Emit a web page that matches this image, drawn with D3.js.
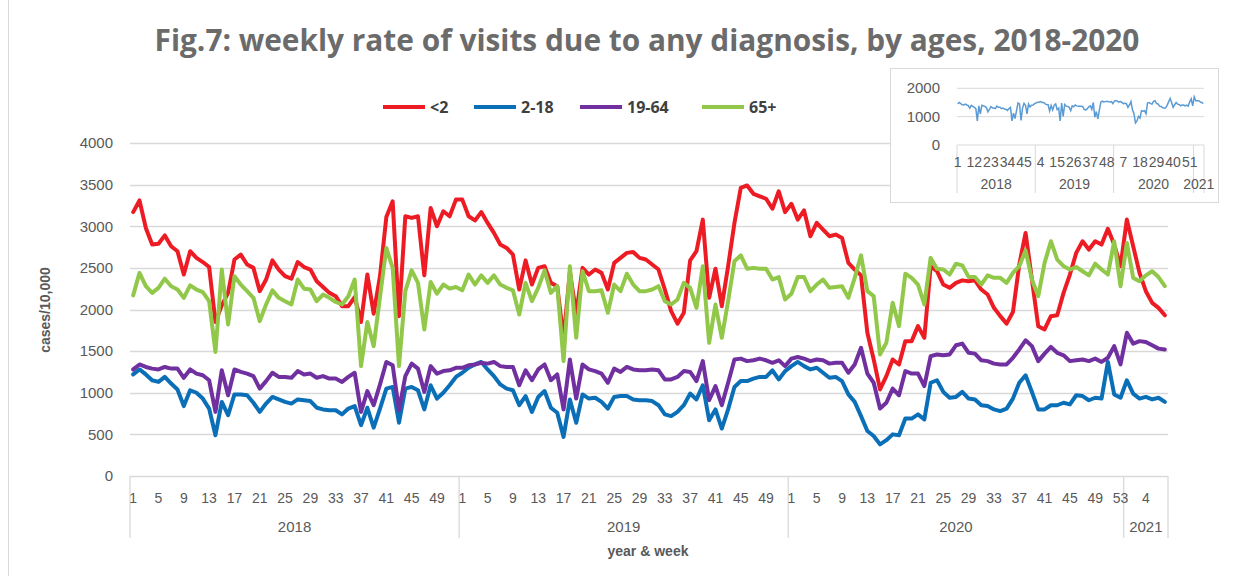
<!DOCTYPE html>
<html><head><meta charset="utf-8">
<script src="https://cdn.jsdelivr.net/npm/d3@7"></script>
<style>body{margin:0;background:#fff} svg{display:block}</style>
</head><body>
<svg id="c" width="1250" height="576"></svg>
<script>
// ---------------- data ----------------
const years = ["2018","2019","2020","2021"];
const weeksPerYear = [52,52,53,7];
const seriesNames = ["<2","2-18","19-64","65+"];
const seriesColors = ["#ED1C24","#0B6FB8","#7030A0","#92C84A"];
const yTicks = [0,500,1000,1500,2000,2500,3000,3500,4000];
const insetTicks = [0,1000,2000];

const under2 = [
 3170,3310,2980,2780,2790,2890,2760,2700,2420,2700,2620,2570,2510,1850,2050,2200,2600,2660,2540,2500,2220,2360,2590,2480,2400,2370,2570,2510,2480,2340,2270,2200,2160,2040,2040,2150,1850,2420,1950,2400,3110,3300,1920,3120,3100,3120,2410,3220,3000,3180,3120,3320,
 3320,3120,3070,3170,3040,2920,2780,2740,2660,2240,2590,2300,2500,2520,2320,2280,1650,2450,1950,2500,2420,2480,2440,2240,2560,2620,2680,2690,2620,2600,2540,2480,2240,1980,1830,1960,2590,2700,3080,2140,2490,2040,2520,3040,3460,3490,3390,3360,3330,3210,3420,3170,
 3270,3080,3190,2880,3040,2960,2880,2900,2860,2560,2480,2410,1720,1400,1040,1200,1400,1340,1620,1620,1800,1660,2520,2460,2300,2260,2320,2350,2340,2350,2240,2180,2020,1920,1830,1970,2540,2920,2360,1800,1760,1920,1930,2200,2420,2680,2820,2720,2820,2780,2970,2780,2520,
 3080,2760,2440,2220,2080,2020,1930];
const age2to18 = [
 1220,1280,1220,1150,1130,1190,1110,1040,840,1030,1000,930,810,490,890,730,980,980,970,880,770,870,950,920,890,870,920,910,900,820,800,790,790,740,810,840,610,820,580,810,1050,1070,640,1050,1070,1030,800,1090,930,1000,1090,1190,
 1240,1300,1340,1370,1280,1200,1100,1050,1030,850,960,770,950,1020,820,760,470,920,640,980,930,940,890,810,950,960,960,920,910,910,900,850,740,720,770,850,990,920,1090,670,800,570,800,1070,1140,1140,1170,1190,1190,1270,1160,1260,
 1320,1370,1320,1280,1300,1240,1180,1190,1140,980,890,720,540,480,380,430,500,490,690,690,740,680,1120,1150,1010,940,950,1010,930,920,850,840,800,780,810,930,1120,1210,1010,800,800,850,850,880,860,970,960,910,940,930,1370,980,940,
 1150,990,930,950,920,940,890];
const age19to64 = [
 1280,1340,1310,1290,1280,1310,1290,1290,1180,1280,1230,1210,1150,770,1270,970,1280,1250,1230,1200,1050,1140,1240,1190,1190,1180,1260,1220,1230,1180,1200,1170,1170,1130,1190,1240,770,1020,850,1100,1370,1330,790,1200,1350,1290,1010,1320,1230,1260,1270,1300,
 1300,1330,1340,1360,1350,1370,1320,1310,1310,1090,1270,1150,1280,1340,1150,1220,800,1400,930,1340,1280,1260,1230,1120,1290,1250,1310,1280,1270,1270,1280,1270,1160,1160,1190,1260,1250,1140,1380,910,1080,850,1120,1400,1410,1380,1390,1410,1390,1360,1390,1320,
 1410,1430,1410,1380,1400,1390,1350,1360,1360,1240,1340,1540,1230,1120,810,880,1050,970,1260,1230,1230,1080,1440,1460,1450,1460,1570,1590,1480,1470,1390,1380,1350,1340,1340,1420,1520,1630,1560,1380,1470,1550,1480,1450,1380,1390,1400,1380,1410,1370,1420,1560,1340,
 1720,1590,1620,1610,1570,1530,1520];
const age65plus = [
 2170,2440,2280,2200,2260,2370,2280,2240,2140,2290,2240,2210,2100,1490,2480,1820,2400,2300,2220,2140,1860,2060,2230,2140,2100,2060,2360,2250,2240,2100,2180,2140,2090,2060,2160,2360,1320,1850,1560,2150,2740,2500,1320,2220,2470,2320,1760,2330,2190,2300,2250,2270,
 2230,2420,2300,2410,2320,2410,2300,2260,2230,1940,2320,2100,2260,2470,2200,2280,1380,2520,1660,2460,2220,2220,2230,1960,2300,2220,2430,2300,2220,2220,2240,2280,2100,2060,2120,2320,2260,2020,2520,1600,2060,1660,2100,2580,2650,2490,2500,2490,2490,2360,2390,2120,
 2190,2390,2390,2220,2300,2360,2260,2270,2280,2140,2380,2650,2220,2160,1460,1600,2080,1800,2430,2380,2300,2060,2620,2490,2480,2420,2550,2530,2390,2390,2300,2410,2380,2380,2320,2440,2520,2710,2360,2160,2560,2820,2600,2520,2480,2510,2460,2410,2550,2480,2420,2820,2280,
 2800,2380,2340,2410,2460,2390,2280];
const insetTotal = [
 1450,1500,1460,1420,1410,1440,1410,1390,1300,1400,1360,1330,1280,850,1380,1100,1400,1380,1360,1320,1170,1260,1350,1310,1300,1290,1370,1330,1330,1280,1300,1270,1260,1220,1290,1330,850,1120,930,1200,1480,1450,870,1300,1470,1400,1100,1450,1340,1400,1410,1460,
 1480,1510,1510,1530,1500,1500,1450,1430,1420,1200,1390,1240,1400,1450,1250,1300,850,1480,1010,1430,1370,1360,1330,1210,1380,1350,1410,1380,1370,1370,1370,1350,1250,1240,1280,1350,1380,1260,1500,980,1180,920,1220,1510,1550,1520,1530,1540,1530,1520,1530,1460,
 1550,1570,1550,1510,1530,1500,1460,1470,1460,1330,1410,1530,1240,1100,780,850,1010,950,1210,1190,1210,1100,1480,1500,1460,1440,1540,1560,1460,1450,1370,1360,1320,1300,1310,1400,1520,1640,1500,1330,1420,1500,1440,1430,1380,1410,1410,1380,1410,1370,1520,1630,1380,
 1700,1560,1560,1560,1520,1500,1460];

// ---------------- build categories ----------------
const cats = [];
years.forEach((y,yi)=>{ for(let w=1; w<=weeksPerYear[yi]; w++) cats.push({year:y, week:w, idx:cats.length}); });
const seriesData = [under2, age2to18, age19to64, age65plus];

const svg = d3.select("#c");
const FONT = "'Liberation Sans', Arial, sans-serif";
const GRID = "#D9D9D9", TXT = "#595959";

// outer frame (left edge)
svg.append("line").attr("x1",8.5).attr("x2",8.5).attr("y1",0).attr("y2",576).attr("stroke",GRID);

// ---------------- main chart ----------------
const L=130, R=1168, T=143, B=476;
const x = d3.scaleBand().domain(cats.map(c=>c.idx)).range([L,R]).paddingInner(0).paddingOuter(0);
const xc = i => x(i) + x.bandwidth()/2;
const y = d3.scaleLinear().domain([0,4000]).range([B,T]);

// gridlines
svg.append("g").selectAll("line").data(yTicks.filter(t=>t>0)).join("line")
  .attr("x1",L).attr("x2",R).attr("y1",d=>Math.round(y(d))+0.5).attr("y2",d=>Math.round(y(d))+0.5)
  .attr("stroke",GRID).attr("stroke-width",1.3);

// y axis labels
const yAxis = d3.axisLeft(y).tickValues(yTicks).tickSize(0).tickPadding(17).tickFormat(d3.format("d"));
const ga = svg.append("g").attr("transform",`translate(${L},0)`).call(yAxis);
ga.select(".domain").remove();
ga.selectAll("text").attr("font-family",FONT).attr("font-size",15).attr("fill",TXT);

// x axis baseline
svg.append("line").attr("x1",L).attr("x2",R).attr("y1",B+0.5).attr("y2",B+0.5).attr("stroke",GRID).attr("stroke-width",1.3);

// year group boundaries
let start = 0;
const bounds = [];
years.forEach((yr,yi)=>{ bounds.push({year:yr, s:start, e:start+weeksPerYear[yi]}); start += weeksPerYear[yi]; });
const bx = i => i < cats.length ? x(i) : R;
svg.append("g").selectAll("line").data([0, ...bounds.map(b=>b.e)]).join("line")
  .attr("x1",d=>bx(d)).attr("x2",d=>bx(d)).attr("y1",B).attr("y2",538)
  .attr("stroke",GRID).attr("stroke-width",1.3);

// week labels every 4th category
svg.append("g").selectAll("text").data(cats.filter(c=>c.idx%4===0)).join("text")
  .attr("x",c=>xc(c.idx)).attr("y",503).attr("text-anchor","middle")
  .attr("font-family",FONT).attr("font-size",14).attr("fill",TXT).text(c=>c.week);
// year labels
svg.append("g").selectAll("text").data(bounds).join("text")
  .attr("x",b=>(bx(b.s)+bx(b.e))/2).attr("y",532).attr("text-anchor","middle")
  .attr("font-family",FONT).attr("font-size",15).attr("fill",TXT).text(b=>b.year);

// axis titles
svg.append("text").attr("x",648).attr("y",556).attr("text-anchor","middle")
  .attr("font-family",FONT).attr("font-weight","bold").attr("font-size",14).attr("fill",TXT).text("year & week");
svg.append("text").attr("transform","translate(50,310) rotate(-90)").attr("text-anchor","middle")
  .attr("font-family",FONT).attr("font-weight","bold").attr("font-size",14).attr("fill",TXT).text("cases/10,000");

// lines
const line = d3.line().x((d,i)=>xc(i)).y(d=>y(d)).curve(d3.curveLinear);
svg.append("g").selectAll("path").data(seriesData).join("path")
  .attr("d",d=>line(d)).attr("fill","none")
  .attr("stroke",(d,i)=>seriesColors[i]).attr("stroke-width",4)
  .attr("stroke-linejoin","round").attr("stroke-linecap","round");

// title
const title = svg.append("text").attr("x",647).attr("y",51).attr("text-anchor","middle")
  .attr("font-family","'Open Sans', sans-serif").attr("font-weight","bold").attr("font-size",24)
  .attr("fill","#6B6B6B").text("Fig.7: weekly rate of visits due to any diagnosis, by ages, 2018-2020");
const tw = title.node().getComputedTextLength();
title.attr("font-size", 24*985/tw);

// legend
const legX = [383,474,580,702];
const leg = svg.append("g");
seriesNames.forEach((n,i)=>{
  leg.append("line").attr("x1",legX[i]).attr("x2",legX[i]+42).attr("y1",107).attr("y2",107)
    .attr("stroke",seriesColors[i]).attr("stroke-width",4);
  leg.append("text").attr("x",legX[i]+47).attr("y",113).attr("font-family","'Open Sans', sans-serif")
    .attr("font-weight","bold").attr("font-size",16).attr("fill","#404040").text(n);
});

// ---------------- inset ----------------
const IL=957, IR=1204, IT=88.3, IB=145;
const ig = svg.append("g");
ig.append("rect").attr("x",890.5).attr("y",68.5).attr("width",328).attr("height",134).attr("fill","#fff").attr("stroke",GRID);
const ix = d3.scaleBand().domain(cats.map(c=>c.idx)).range([IL,IR]);
const ixc = i => ix(i) + ix.bandwidth()/2;
const iy = d3.scaleLinear().domain([0,2000]).range([IB,IT]);
ig.selectAll("line.g").data(insetTicks).join("line").attr("class","g")
  .attr("x1",IL).attr("x2",IR).attr("y1",d=>iy(d)).attr("y2",d=>iy(d)).attr("stroke",GRID);
ig.selectAll("text.yl").data(insetTicks).join("text").attr("class","yl")
  .attr("x",940).attr("y",d=>iy(d)+5).attr("text-anchor","end")
  .attr("font-family",FONT).attr("font-size",15).attr("fill",TXT).text(d=>d);
const ibx = i => i < cats.length ? ix(i) : IR;
ig.selectAll("line.b").data([0, ...bounds.map(b=>b.e)]).join("line").attr("class","b")
  .attr("x1",d=>ibx(d)).attr("x2",d=>ibx(d)).attr("y1",IB).attr("y2",193).attr("stroke",GRID);
ig.selectAll("text.w").data(cats.filter(c=>c.idx%11===0)).join("text").attr("class","w")
  .attr("x",c=>ixc(c.idx)).attr("y",167).attr("text-anchor","middle")
  .attr("font-family",FONT).attr("font-size",14).attr("fill",TXT).text(c=>c.week);
ig.selectAll("text.yr").data(bounds).join("text").attr("class","yr")
  .attr("x",b=>(ibx(b.s)+ibx(b.e))/2).attr("y",189).attr("text-anchor","middle")
  .attr("font-family",FONT).attr("font-size",14).attr("fill",TXT).text(b=>b.year);
ig.append("path").attr("d", d3.line().x((d,i)=>ixc(i)).y(d=>iy(d))(insetTotal))
  .attr("fill","none").attr("stroke","#5B9BD5").attr("stroke-width",1.5);
</script>
</body></html>
